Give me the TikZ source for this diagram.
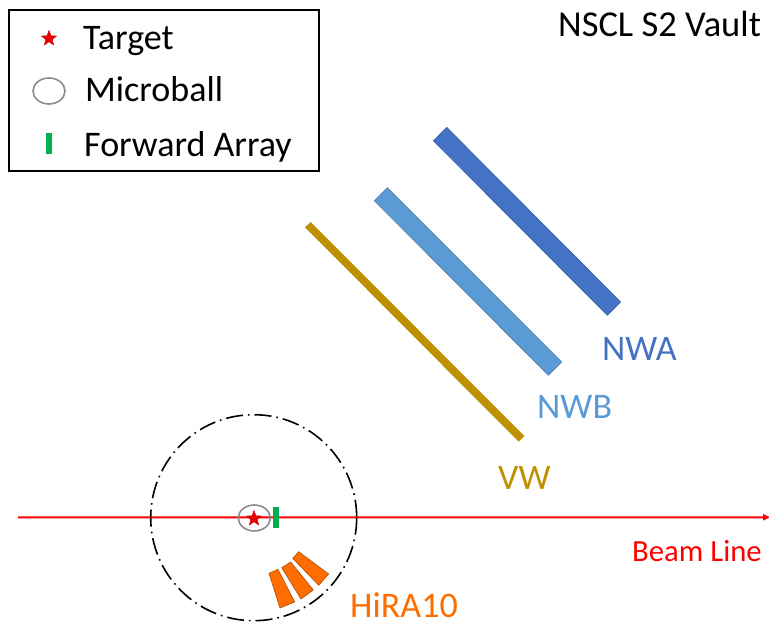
\documentclass[tikz,border=0pt]{standalone}
\usepackage{fontspec}
\setmainfont{Carlito}
\usetikzlibrary{shapes.geometric}
\definecolor{nwa}{HTML}{4472C4}
\definecolor{nwb}{HTML}{5B9BD5}
\definecolor{vw}{HTML}{BF9000}
\definecolor{hira}{HTML}{FF6D00}
\definecolor{fa}{HTML}{00B050}
\definecolor{beam}{HTML}{FF0000}
\tikzset{
  x=1pt,y=-1pt,
  lab/.style={inner sep=0pt,anchor=base west,font=\fontsize{36}{36}\selectfont},
  det/.style={inner sep=0pt,anchor=base west,font=\fontsize{36}{36}\selectfont},
  sm/.style={inner sep=0pt,anchor=base west,font=\fontsize{30.7}{31}\selectfont},
  tstar/.style={star,star points=5,star point ratio=2.4,draw=red!75!black,line width=.4pt,fill=red!92!black,minimum size=16pt,inner sep=0pt},
  mball/.style={ellipse,draw=gray!90,line width=1.6pt,minimum width=32pt,minimum height=26pt,inner sep=0pt},
  farr/.style={rectangle,fill=fa,minimum width=6pt,minimum height=20.5pt,inner sep=0pt},
  hiraseg/.style={fill=hira,draw=hira!70!black,line width=.6pt}
}
\begin{document}
\begin{tikzpicture}
\useasboundingbox (0,0) rectangle (769,626);
% legend
\node[draw=black,line width=1.5pt,minimum width=310pt,minimum height=161pt,inner sep=0pt] (legend) at (164,90.5) {};
\node[tstar] (lstar) at (49,38.5) {};
\node[mball] (lball) at (49,91) {};
\node[farr] (lfa) at (49.3,143.5) {};
\node[lab] (ltarget) at (83,50) {Target};
\node[lab] (lmicro) at (85,102) {Microball};
\node[lab] (lfwd) at (84,156) {Forward Array};
\node[inner sep=0pt,anchor=base west,font=\fontsize{36.5}{37}\selectfont] (vault) at (558,37) {NSCL S2 Vault};
% walls
\fill[nwa,draw=nwa!85!black,line width=.6pt] (433.3,140.7) -- (446.7,127.3) -- (620.7,302) -- (607.3,315.3) -- cycle;
\fill[nwb,draw=nwb!80!black,line width=.6pt] (374.3,200.7) -- (387.3,187.7) -- (561.7,362) -- (548.3,375.3) -- cycle;
\fill[vw] (305,227.3) -- (310.7,222) -- (524.3,436) -- (518.7,441.7) -- cycle;
\node[det,text=nwa] (lnwa) at (602,360) {NWA};
\node[det,text=nwb] (lnwb) at (537,418) {NWB};
\node[det,text=vw] (lvw) at (498,489) {VW};
% beam: shaft and head as one filled outline
\fill[beam] (18,516.3) -- (763,516.3) -- (763,514) -- (770,517.3) -- (763,520.6) -- (763,518.3) -- (18,518.3) -- cycle;
\node[sm,text=red] (lbeam) at (632,561) {Beam Line};
% chamber
\draw[black,line width=1.6pt,dash pattern=on 17pt off 5pt on 1.6pt off 5pt] (253.7,517.7) circle[radius=103];
% target
\node[mball] (ball) at (254.3,518) {};
\node[tstar] (star) at (254,518.5) {};
\node[farr] (fwd) at (276.3,517.6) {};
% HiRA10
\fill[hiraseg] (269,573.3) -- (278,569.3) -- (294.7,602) -- (280,608) -- cycle;
\fill[hiraseg] (281.7,567.7) -- (290.7,562) -- (313.3,590) -- (301,599) -- cycle;
\fill[hiraseg] (292.7,558.3) -- (298.7,551.7) -- (328.7,574) -- (318.7,585.3) -- cycle;
\node[det,text=hira] (lhira) at (350,617) {HiRA10};
\end{tikzpicture}
\end{document}
